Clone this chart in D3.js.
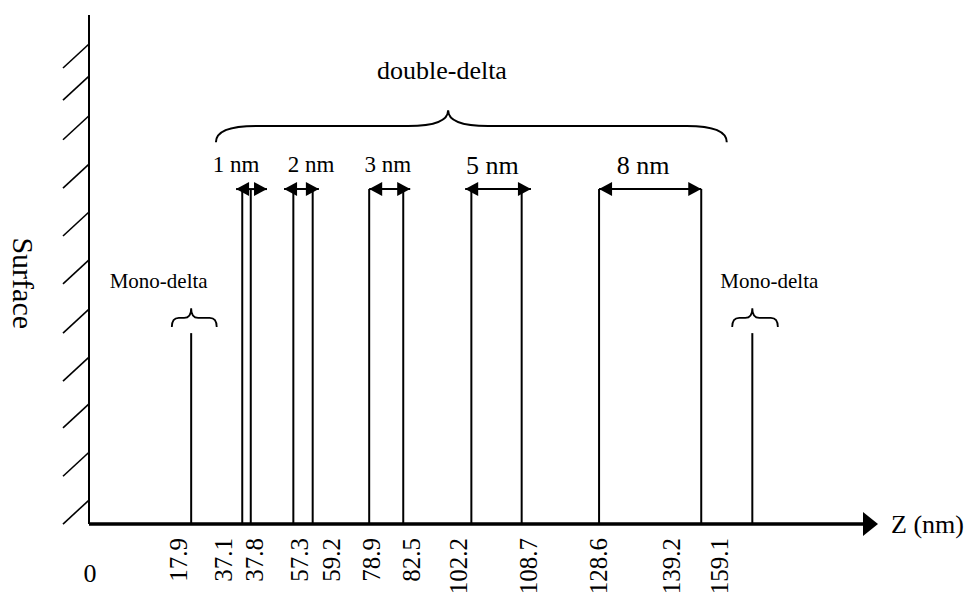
<!DOCTYPE html>
<html lang="en">
<head>
<title>Mono-delta and double-delta positions</title>
<meta charset="utf-8">
<script src="https://cdnjs.cloudflare.com/ajax/libs/d3/7.8.5/d3.min.js"></script>
<style>
body {
    margin: 0;
    background: #fff;
}
text {
    font-family: "Liberation Serif", "Times New Roman", serif;
    fill: #000;
}
</style>
</head>

<body>
<div id='chart'></div>
<script>

// schematic positions along the Z axis (0-100 = axis length) and height (0-100 = wall height)
var zLabels = ["17.9", "37.1", "37.8", "57.3", "59.2", "78.9", "82.5", "102.2", "108.7", "128.6", "139.2", "159.1"]
var zLabelPos = [12.7, 18.5, 22.5, 28.3, 32.4, 37.6, 42.8, 48.8, 57.9, 66.9, 76.4, 82.6]

var monoPos = [13.2, 85.7]
var monoTextPos = [9.0, 87.9]
var monoBraceLeft = [10.7, 83.1]
var monoBraceRight = [16.5, 89.0]
var monoHeight = 37.5

var pairNames = ["1 nm", "2 nm", "3 nm", "5 nm", "8 nm"]
var pairLeft = [19.8, 26.4, 36.2, 49.4, 65.9]
var pairRight = [20.9, 28.9, 40.6, 55.9, 79.1]
var arrowLeft = [19.0, 25.2, 36.2, 48.6, 65.9]
var arrowRight = [23.0, 29.7, 41.5, 57.1, 79.1]
var pairLabelPos = [19.0, 28.7, 38.6, 52.1, 71.6]
var pairHeight = 65.8

var doubleBrace = [16.4, 46.4, 82.4]   // left end, cusp, right end
var doubleTextPos = 45.6

var hatchLevels = [94.3, 88.0, 80.2, 70.7, 61.3, 51.9, 42.2, 32.8, 23.6, 14.1, 4.7]

var svgWidth = 973, svgHeight = 595

var svg = d3.select('#chart')
    .append('svg')
    .attr('width', svgWidth)
    .attr('height', svgHeight)

var x = d3.scaleLinear().domain([0, 100]).range([89, 863])
var y = d3.scaleLinear().domain([0, 100]).range([524, 15])

function brace(x0, xc, x1, yEnd, yFlat, yCusp, r) {
    return 'M' + x0 + ',' + yEnd +
        ' Q' + x0 + ',' + yFlat + ' ' + (x0 + r) + ',' + yFlat +
        ' L' + (xc - r) + ',' + yFlat +
        ' Q' + xc + ',' + yFlat + ' ' + xc + ',' + yCusp +
        ' Q' + xc + ',' + yFlat + ' ' + (xc + r) + ',' + yFlat +
        ' L' + (x1 - r) + ',' + yFlat +
        ' Q' + x1 + ',' + yFlat + ' ' + x1 + ',' + yEnd
}

function drawWall() {
    svg.append('line')
        .attr('x1', x(0)).attr('x2', x(0))
        .attr('y1', y(100)).attr('y2', y(0))
        .attr('stroke', '#000')
        .attr('stroke-width', 2)

    svg.selectAll('.hatch')
        .data(hatchLevels)
        .enter().append('line')
        .attr('class', 'hatch')
        .attr('x1', x(0))
        .attr('y1', function(d) { return y(d) })
        .attr('x2', x(0) - 26)
        .attr('y2', function(d) { return y(d) + 24 })
        .attr('stroke', '#000')
        .attr('stroke-width', 1.6)

    svg.append('text')
        .attr('transform', 'translate(13,' + y(47.3) + ') rotate(90)')
        .attr('text-anchor', 'middle')
        .style('font-size', '30px')
        .text('Surface')
}

function drawAxis() {
    svg.append('line')
        .attr('x1', x(0)).attr('x2', x(100))
        .attr('y1', y(0)).attr('y2', y(0))
        .attr('stroke', '#000')
        .attr('stroke-width', 3.5)

    svg.append('path')
        .attr('d', 'M' + x(100) + ',' + (y(0) - 12) + ' L' + (x(100) + 15) + ',' + y(0) + ' L' + x(100) + ',' + (y(0) + 12) + 'Z')
        .attr('fill', '#000')

    svg.append('text')
        .attr('x', x(100) + 28)
        .attr('y', y(0) + 9)
        .style('font-size', '26px')
        .text('Z (nm)')

    svg.append('text')
        .attr('x', x(0) + 1)
        .attr('y', y(0) + 58)
        .attr('text-anchor', 'middle')
        .style('font-size', '26px')
        .text('0')

    svg.selectAll('.zlabel')
        .data(zLabels)
        .enter().append('text')
        .attr('class', 'zlabel')
        .attr('transform', function(d, i) {
            return 'translate(' + x(zLabelPos[i]) + ',' + (y(0) + 14) + ') rotate(-90)'
        })
        .attr('text-anchor', 'end')
        .style('font-size', '25px')
        .text(function(d) { return d })
}

function drawMono() {
    svg.selectAll('.mono')
        .data(monoPos)
        .enter().append('line')
        .attr('class', 'mono')
        .attr('x1', function(d) { return x(d) })
        .attr('x2', function(d) { return x(d) })
        .attr('y1', y(0))
        .attr('y2', y(monoHeight))
        .attr('stroke', '#000')
        .attr('stroke-width', 2)

    svg.selectAll('.monoBrace')
        .data(monoPos)
        .enter().append('path')
        .attr('class', 'monoBrace')
        .attr('d', function(d, i) {
            return brace(x(monoBraceLeft[i]), x(d), x(monoBraceRight[i]), y(38.7), y(40.5), y(42.4), 7)
        })
        .attr('fill', 'none')
        .attr('stroke', '#000')
        .attr('stroke-width', 1.8)

    svg.selectAll('.monoText')
        .data(monoTextPos)
        .enter().append('text')
        .attr('class', 'monoText')
        .attr('x', function(d) { return x(d) })
        .attr('y', y(46.4))
        .attr('text-anchor', 'middle')
        .style('font-size', '21px')
        .text('Mono-delta')
}

function drawPairs() {
    var lines = pairLeft.concat(pairRight)
    svg.selectAll('.pairLine')
        .data(lines)
        .enter().append('line')
        .attr('class', 'pairLine')
        .attr('x1', function(d) { return x(d) })
        .attr('x2', function(d) { return x(d) })
        .attr('y1', y(0))
        .attr('y2', y(pairHeight))
        .attr('stroke', '#000')
        .attr('stroke-width', 2)

    var ay = y(pairHeight)
    var arrows = svg.selectAll('.arrow')
        .data(pairNames)
        .enter().append('g')
        .attr('class', 'arrow')

    arrows.append('line')
        .attr('x1', function(d, i) { return x(arrowLeft[i]) })
        .attr('x2', function(d, i) { return x(arrowRight[i]) })
        .attr('y1', ay).attr('y2', ay)
        .attr('stroke', '#000')
        .attr('stroke-width', 2)

    arrows.append('path')
        .attr('d', function(d, i) {
            var t = x(arrowLeft[i])
            return 'M' + t + ',' + ay + ' L' + (t + 13) + ',' + (ay - 7) + ' L' + (t + 13) + ',' + (ay + 7) + 'Z'
        })
        .attr('fill', '#000')

    arrows.append('path')
        .attr('d', function(d, i) {
            var t = x(arrowRight[i])
            return 'M' + t + ',' + ay + ' L' + (t - 13) + ',' + (ay - 7) + ' L' + (t - 13) + ',' + (ay + 7) + 'Z'
        })
        .attr('fill', '#000')

    svg.selectAll('.pairText')
        .data(pairNames)
        .enter().append('text')
        .attr('class', 'pairText')
        .attr('x', function(d, i) { return x(pairLabelPos[i]) })
        .attr('y', function(d, i) { return i < 3 ? y(69.2) : y(68.8) })
        .attr('text-anchor', 'middle')
        .style('font-size', function(d, i) { return i < 3 ? '23px' : '26px' })
        .text(function(d) { return d })

    svg.append('path')
        .attr('d', brace(x(doubleBrace[0]), x(doubleBrace[1]), x(doubleBrace[2]), y(75.0), y(78.2), y(81.3), 40))
        .attr('fill', 'none')
        .attr('stroke', '#000')
        .attr('stroke-width', 2)

    svg.append('text')
        .attr('x', x(doubleTextPos))
        .attr('y', y(87.4))
        .attr('text-anchor', 'middle')
        .style('font-size', '26px')
        .text('double-delta')
}

drawWall()
drawAxis()
drawMono()
drawPairs()

</script>
</body>
</html>
